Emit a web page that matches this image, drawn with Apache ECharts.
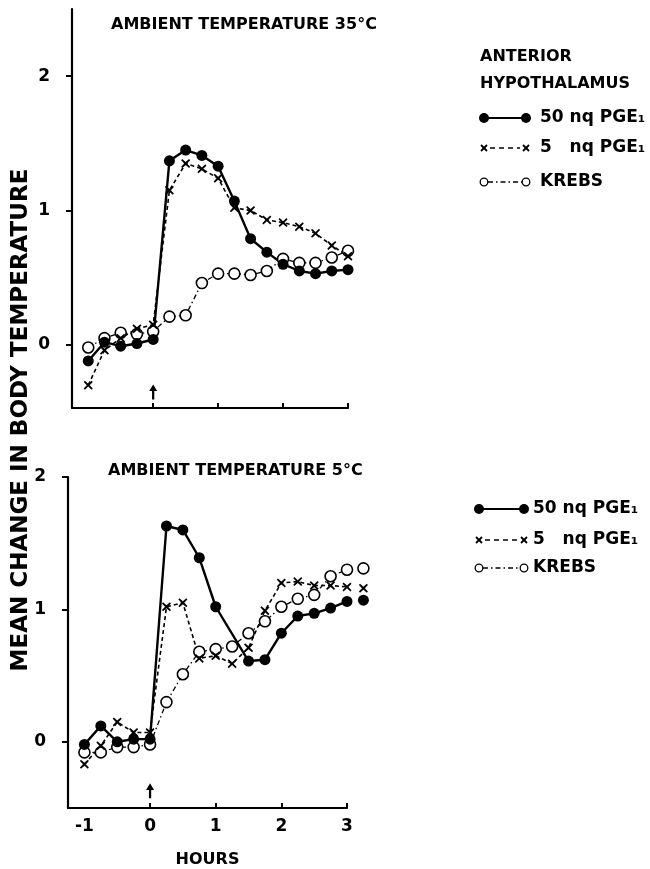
<!DOCTYPE html>
<html>
<head>
<meta charset="utf-8">
<script src="https://cdn.jsdelivr.net/npm/echarts@6.0.0/dist/echarts.min.js"></script>
<style>
  html, body { margin: 0; padding: 0; background: #fff; }
  #chart { width: 650px; height: 869px; }
</style>
</head>
<body>
<div id="chart"></div>
<script>
// hours after injection (arrow = time of injection)
const hoursTop = [-1, -0.75, -0.5, -0.25, 0, 0.25, 0.5, 0.75, 1, 1.25, 1.5, 1.75, 2, 2.25, 2.5, 2.75, 3]
const hoursBottom = [-1, -0.75, -0.5, -0.25, 0, 0.25, 0.5, 0.75, 1, 1.25, 1.5, 1.75, 2, 2.25, 2.5, 2.75, 3, 3.25]

// ambient 35 C
const top50 = [-0.12, 0.02, -0.01, 0.01, 0.04, 1.37, 1.45, 1.41, 1.33, 1.07, 0.79, 0.69, 0.60, 0.55, 0.53, 0.55, 0.56]
const top5 = [-0.30, -0.04, 0.05, 0.12, 0.15, 1.15, 1.35, 1.31, 1.24, 1.02, 1.00, 0.93, 0.91, 0.88, 0.83, 0.74, 0.66]
const topKrebs = [-0.02, 0.05, 0.09, 0.08, 0.10, 0.21, 0.22, 0.46, 0.53, 0.53, 0.52, 0.55, 0.64, 0.61, 0.61, 0.65, 0.70]

// ambient 5 C (no 50 ng reading at 1.25 h)
const bottom50 = [-0.02, 0.12, 0.00, 0.02, 0.02, 1.63, 1.60, 1.39, 1.02, null, 0.61, 0.62, 0.82, 0.95, 0.97, 1.01, 1.06, 1.07]
const bottom5 = [-0.17, -0.03, 0.15, 0.07, 0.07, 1.02, 1.05, 0.63, 0.65, 0.59, 0.71, 0.99, 1.20, 1.21, 1.18, 1.18, 1.17, 1.16]
const bottomKrebs = [-0.08, -0.08, -0.04, -0.04, -0.02, 0.30, 0.51, 0.68, 0.70, 0.72, 0.82, 0.91, 1.02, 1.08, 1.11, 1.25, 1.30, 1.31]

const yTickValues = [0, 1, 2]
const xTickValues = [0, 1, 2, 3]
const xLabelValues = [-1, 0, 1, 2, 3]
const injectionArrowTop = [0, -0.35]
const injectionArrowBottom = [0, -0.37]

const FONT = '"DejaVu Sans", sans-serif'
const BLACK = '#000'
const X_SYMBOL = 'path://M1.2,0L5,3.4L8.8,0L10,1.4L6.6,5L10,8.6L8.8,10L5,6.6L1.2,10L0,8.6L3.4,5L0,1.4Z'
const ARROW = 'path://M5,0L10,8L6.4,8L6.4,18L3.6,18L3.6,8L0,8Z'

const seriesStyle = {
  pge50: {
    symbol: 'circle', symbolSize: 11,
    lineStyle: { color: BLACK, width: 2.4 },
    itemStyle: { color: BLACK },
  },
  pge5: {
    symbol: X_SYMBOL, symbolSize: 9,
    lineStyle: { color: BLACK, width: 1.6, type: [4, 3] },
    itemStyle: { color: BLACK },
  },
  krebs: {
    symbol: 'circle', symbolSize: 11,
    lineStyle: { color: BLACK, width: 1.3, type: [5, 3, 1.5, 3] },
    itemStyle: { color: '#fff', borderColor: BLACK, borderWidth: 1.6 },
  },
}

const pairs = (hours, values) =>
  hours.map((h, i) => [h, values[i]]).filter(p => p[1] !== null)

const makeSeries = (name, idx, hours, values, style, arrowAt) => {
  const s = {
    name,
    type: 'line',
    xAxisIndex: idx,
    yAxisIndex: idx,
    data: pairs(hours, values),
    clip: false,
    showSymbol: true,
    animation: false,
    ...style,
  }
  if (arrowAt) {
    s.markPoint = {
      symbol: ARROW,
      symbolSize: [8, 15],
      silent: true,
      itemStyle: { color: BLACK },
      label: { show: false },
      data: [{ coord: arrowAt }],
    }
  }
  return s
}

const labelText = { color: BLACK, fontSize: 17, fontWeight: 'bold', fontFamily: FONT }

const yAxis = (idx, min, max) => ({
  type: 'value',
  gridIndex: idx,
  min, max,
  axisLine: { show: true, onZero: false, lineStyle: { color: BLACK, width: 2.2 } },
  axisTick: { show: true, customValues: yTickValues, length: 6, lineStyle: { color: BLACK, width: 2 } },
  axisLabel: { customValues: yTickValues, margin: 22, ...labelText },
  splitLine: { show: false },
})

const xAxis = (idx, withLabels) => ({
  type: 'value',
  gridIndex: idx,
  min: -1.25,
  max: 3,
  axisLine: { show: true, onZero: false, lineStyle: { color: BLACK, width: 2.2 } },
  axisTick: { show: true, inside: true, customValues: xTickValues, length: 5, lineStyle: { color: BLACK, width: 2 } },
  axisLabel: withLabels
    ? { show: true, customValues: xLabelValues, margin: 10, ...labelText }
    : { show: false },
  splitLine: { show: false },
  name: withLabels ? 'HOURS' : '',
  nameLocation: 'middle',
  nameGap: 44,
  nameTextStyle: { ...labelText, fontSize: 16 },
})

// hand-drawn style legend samples
const legendRows = (x0, x1, xt, ys) => {
  const els = []
  const kinds = ['pge50', 'pge5', 'krebs']
  const texts = ['50 nq PGE\u2081', '5   nq PGE\u2081', 'KREBS']
  ys.forEach((y, i) => {
    const kind = kinds[i]
    if (kind === 'pge50') {
      els.push({ type: 'line', shape: { x1: x0, y1: y, x2: x1, y2: y }, style: { stroke: BLACK, lineWidth: 2.2 } })
      els.push({ type: 'circle', shape: { cx: x0, cy: y, r: 5 }, style: { fill: BLACK } })
      els.push({ type: 'circle', shape: { cx: x1, cy: y, r: 5 }, style: { fill: BLACK } })
    } else if (kind === 'pge5') {
      els.push({ type: 'line', shape: { x1: x0 + 6, y1: y, x2: x1 - 6, y2: y }, style: { stroke: BLACK, lineWidth: 1.6, lineDash: [5, 4] } })
      ;[x0, x1].forEach(cx => {
        els.push({ type: 'line', shape: { x1: cx - 3, y1: y - 3, x2: cx + 3, y2: y + 3 }, style: { stroke: BLACK, lineWidth: 1.8 } })
        els.push({ type: 'line', shape: { x1: cx - 3, y1: y + 3, x2: cx + 3, y2: y - 3 }, style: { stroke: BLACK, lineWidth: 1.8 } })
      })
    } else {
      els.push({ type: 'line', shape: { x1: x0 + 4, y1: y, x2: x1 - 4, y2: y }, style: { stroke: BLACK, lineWidth: 1.3, lineDash: [5, 3, 1.5, 3] } })
      els.push({ type: 'circle', shape: { cx: x0, cy: y, r: 3.8 }, style: { fill: '#fff', stroke: BLACK, lineWidth: 1.3 } })
      els.push({ type: 'circle', shape: { cx: x1, cy: y, r: 3.8 }, style: { fill: '#fff', stroke: BLACK, lineWidth: 1.3 } })
    }
    els.push({
      type: 'text', x: xt, y,
      style: { text: texts[i], fill: BLACK, fontSize: 17, fontWeight: 'bold', fontFamily: FONT, verticalAlign: 'middle' },
    })
  })
  return els
}

const option = {
  backgroundColor: '#fff',
  animation: false,
  title: [
    { text: 'AMBIENT TEMPERATURE 35°C', left: 106, top: 12, textStyle: { ...labelText, fontSize: 16 } },
    { text: 'AMBIENT TEMPERATURE 5°C', left: 103, top: 458, textStyle: { ...labelText, fontSize: 16 } },
  ],
  grid: [
    { left: 72, top: 9, width: 276, height: 399 },
    { left: 68, top: 477, width: 279, height: 334 },
  ],
  xAxis: [xAxis(0, false), xAxis(1, true)],
  yAxis: [yAxis(0, -0.47, 2.5), yAxis(1, -0.5, 2)],
  series: [
    makeSeries('KREBS', 0, hoursTop, topKrebs, seriesStyle.krebs),
    makeSeries('5 nq PGE1', 0, hoursTop, top5, seriesStyle.pge5),
    makeSeries('50 nq PGE1', 0, hoursTop, top50, seriesStyle.pge50, injectionArrowTop),
    makeSeries('KREBS', 1, hoursBottom, bottomKrebs, seriesStyle.krebs),
    makeSeries('5 nq PGE1', 1, hoursBottom, bottom5, seriesStyle.pge5),
    makeSeries('50 nq PGE1', 1, hoursBottom, bottom50, seriesStyle.pge50, injectionArrowBottom),
  ],
  graphic: [
    {
      type: 'text', x: 21, y: 420, rotation: Math.PI / 2,
      style: { text: 'MEAN CHANGE IN BODY TEMPERATURE', fill: BLACK, fontSize: 23, fontWeight: 'bold', fontFamily: FONT, align: 'center', verticalAlign: 'middle' },
    },
    {
      type: 'text', x: 480, y: 57,
      style: { text: 'ANTERIOR', fill: BLACK, fontSize: 16, fontWeight: 'bold', fontFamily: FONT, verticalAlign: 'middle' },
    },
    {
      type: 'text', x: 480, y: 84,
      style: { text: 'HYPOTHALAMUS', fill: BLACK, fontSize: 16, fontWeight: 'bold', fontFamily: FONT, verticalAlign: 'middle' },
    },
    ...legendRows(484, 526, 540, [118, 148, 182]),
    ...legendRows(479, 524, 533, [509, 540, 568]),
  ],
}

const chart = echarts.init(document.getElementById('chart'))
chart.setOption(option)
</script>
</body>
</html>
